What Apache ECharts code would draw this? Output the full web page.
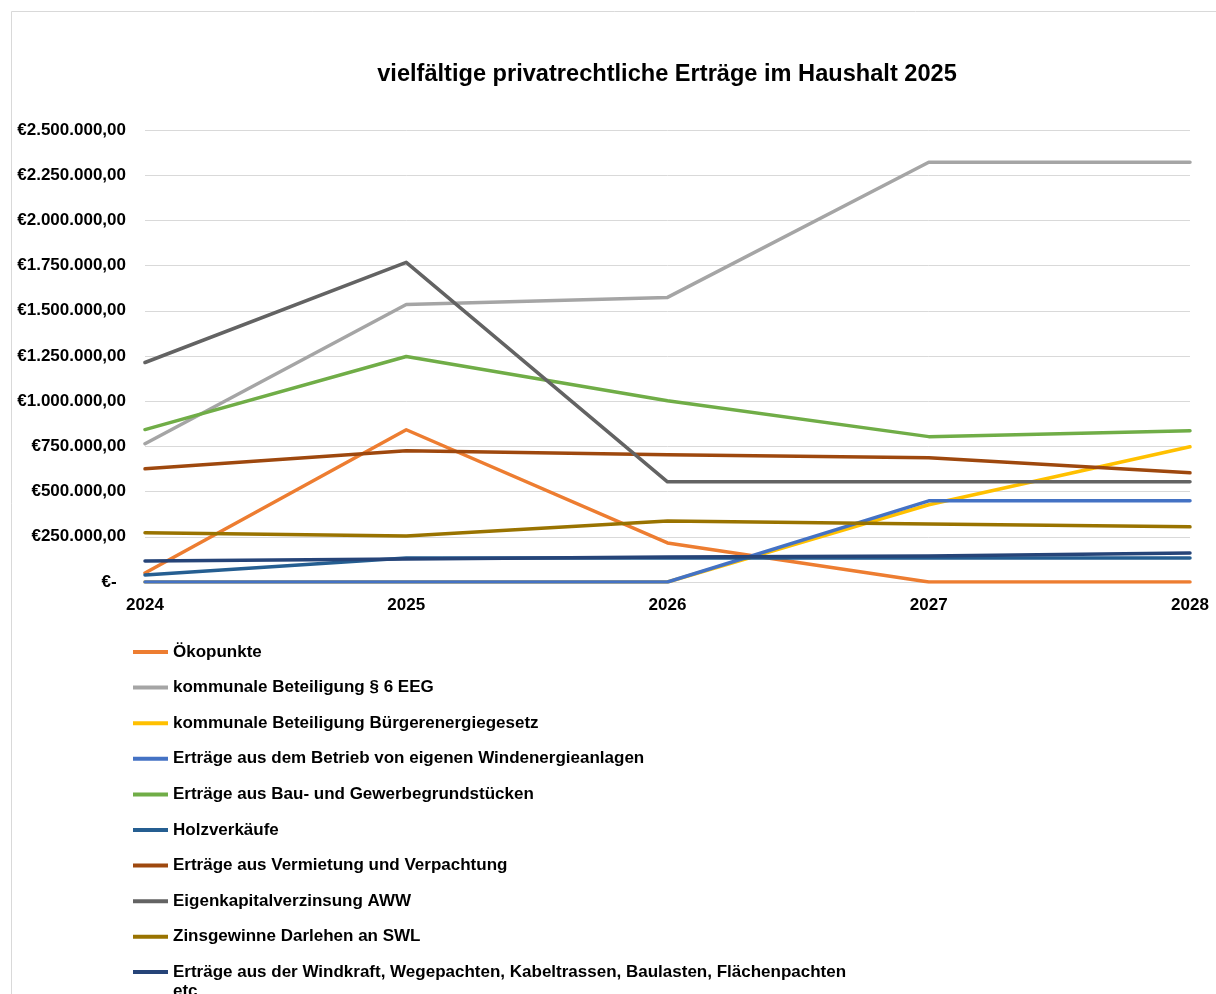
<!DOCTYPE html>
<html>
<head>
<meta charset="utf-8">
<script src="https://cdn.jsdelivr.net/npm/echarts@6/dist/echarts.min.js"></script>
<style>
  html, body { margin: 0; padding: 0; background: #ffffff; }
  #chart { width: 1216px; height: 994px; }
</style>
</head>
<body>
<div id="chart"></div>
<script>
// Jahre (Kategorien der x-Achse)
const years = ['2024', '2025', '2026', '2027', '2028'];

// Ertragsarten in Euro je Jahr
const oekopunkte         = [50000, 842000, 216000, 0, 0];
const eegBeteiligung     = [765000, 1535000, 1574000, 2322000, 2322000];
const buergerenergie     = [0, 0, 0, 427000, 748000];
const eigeneWindanlagen  = [0, 0, 0, 449000, 449000];
const bauGewerbe         = [843000, 1247000, 1003000, 804000, 837000];
const holzverkaeufe      = [39000, 133000, 133000, 133000, 133000];
const vermietung         = [626000, 726000, 704000, 687000, 604000];
const eigenkapitalAWW    = [1214000, 1768000, 554000, 554000, 554000];
const zinsgewinneSWL     = [272000, 255000, 338000, 321000, 305000];
const windkraftPachten   = [116000, 127000, 138000, 144000, 160000];

const seriesNames = [
  'Ökopunkte',
  'kommunale Beteiligung § 6 EEG',
  'kommunale Beteiligung Bürgerenergiegesetz',
  'Erträge aus dem Betrieb von eigenen Windenergieanlagen',
  'Erträge aus Bau- und Gewerbegrundstücken',
  'Holzverkäufe',
  'Erträge aus Vermietung und Verpachtung',
  'Eigenkapitalverzinsung AWW',
  'Zinsgewinne Darlehen an SWL',
  'Erträge aus der Windkraft, Wegepachten, Kabeltrassen, Baulasten, Flächenpachten etc'
];
const seriesValues = [
  oekopunkte, eegBeteiligung, buergerenergie, eigeneWindanlagen, bauGewerbe,
  holzverkaeufe, vermietung, eigenkapitalAWW, zinsgewinneSWL, windkraftPachten
];
const seriesColors = [
  '#ED7D31', '#A5A5A5', '#FFC000', '#4472C4', '#70AD47',
  '#255E91', '#9E480E', '#636363', '#997300', '#264478'
];

const FONT = '"Liberation Sans", Arial, sans-serif';

// Währungsformat wie in der Tabellenkalkulation: €2.500.000,00 bzw. €- für null
function euro(v) {
  if (v === 0) return '€-  ';
  const s = Math.round(v).toString().replace(/\B(?=(\d{3})+(?!\d))/g, '.');
  return '€' + s + ',00';
}

const chart = echarts.init(document.getElementById('chart'), null, { renderer: 'canvas' });

const legendText = {
  fontFamily: FONT,
  fontWeight: 'bold',
  fontSize: 17,
  color: '#000000',
  lineHeight: 19
};

chart.setOption({
  animation: false,
  backgroundColor: '#ffffff',
  graphic: [{
    type: 'rect',
    shape: { x: 11.5, y: 11.5, width: 1400, height: 1200 },
    style: { fill: 'none', stroke: '#d9d9d9', lineWidth: 1 },
    silent: true,
    z: -10
  }],
  title: {
    text: 'vielfältige privatrechtliche Erträge im Haushalt 2025',
    left: 662,
    textAlign: 'center',
    top: 57,
    textStyle: {
      fontFamily: FONT,
      fontWeight: 'bold',
      fontSize: 23.6,
      color: '#000000'
    }
  },
  legend: [{
    orient: 'vertical',
    left: 133,
    top: 642.5,
    padding: 0,
    itemWidth: 35,
    itemHeight: 4,
    itemGap: 16.6,
    icon: 'rect',
    selectedMode: false,
    textStyle: legendText,
    data: seriesNames.slice(0, 9)
  }, {
    // letzter Eintrag ist zweizeilig; die Leerzeile davor hält die erste Zeile auf Höhe der Linie
    orient: 'vertical',
    left: 133,
    top: 943.5,
    padding: 0,
    itemWidth: 35,
    itemHeight: 4,
    icon: 'rect',
    selectedMode: false,
    formatter: name => '\n' + name.replace(' etc', '\netc'),
    textStyle: legendText,
    data: seriesNames.slice(9)
  }],
  grid: {
    left: 145,
    right: 26,
    top: 130,
    bottom: 412,
    containLabel: false,
    outerBoundsMode: 'none'
  },
  xAxis: {
    type: 'category',
    data: years,
    boundaryGap: false,
    axisLine: { show: false },
    axisTick: { show: false },
    axisLabel: {
      margin: 15,
      fontFamily: FONT,
      fontWeight: 'bold',
      fontSize: 17,
      color: '#000000'
    },
    splitLine: { show: false }
  },
  yAxis: {
    type: 'value',
    min: 0,
    max: 2500000,
    interval: 250000,
    axisLine: { show: false },
    axisTick: { show: false },
    axisLabel: {
      margin: 19,
      formatter: euro,
      fontFamily: FONT,
      fontWeight: 'bold',
      fontSize: 17,
      color: '#000000'
    },
    splitLine: { lineStyle: { color: '#d9d9d9', width: 1 } }
  },
  series: seriesNames.map((name, i) => ({
    name: name,
    type: 'line',
    data: seriesValues[i],
    symbol: 'none',
    color: seriesColors[i],
    lineStyle: { width: 3.5, color: seriesColors[i], cap: 'round', join: 'round' }
  }))
});
</script>
</body>
</html>
